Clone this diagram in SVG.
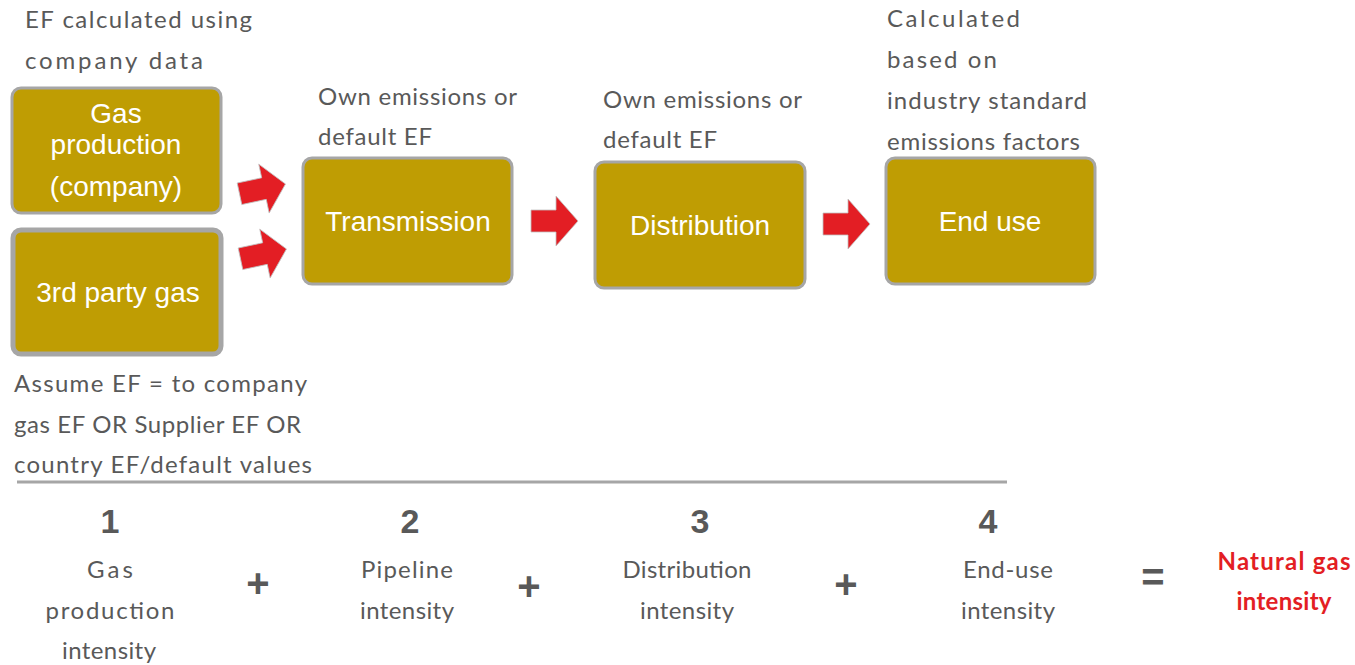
<svg xmlns="http://www.w3.org/2000/svg" width="1355" height="665" viewBox="0 0 1355 665">
<style>
.box{fill:#BF9D03;stroke:#A6A6A6;stroke-width:3}
.bt{font-family:"Liberation Sans",Arial,sans-serif;font-size:28px;fill:#FFFFFF;text-anchor:middle}
.note{font-family:"Lato","Open Sans",sans-serif;font-size:24px;fill:#595959}
.num{font-family:"Liberation Sans",Arial,sans-serif;font-size:34px;font-weight:bold;fill:#595959;text-anchor:middle}
.lab{font-family:"Lato","Open Sans",sans-serif;font-size:24px;fill:#595959;text-anchor:middle}
.op{font-family:"Liberation Sans",Arial,sans-serif;font-size:40px;font-weight:bold;fill:#595959;text-anchor:middle}
.res{font-family:"Lato","Open Sans",sans-serif;font-size:24px;font-weight:bold;fill:#E31E24;text-anchor:middle}
.arr{fill:#E31E24;stroke:#C0C0C0;stroke-width:0.8}
</style>
<defs>
<path id="blk" d="M-23,-11 L2,-11 L2,-25 L24,0 L2,25 L2,11 L-23,11 Z"/>
</defs>
<g id="connectors">
<use href="#blk" class="arr" transform="translate(262,189) rotate(-12)"/>
<use href="#blk" class="arr" transform="translate(263,254) rotate(-12)"/>
<use href="#blk" class="arr" transform="translate(554,221)"/>
<use href="#blk" class="arr" transform="translate(846,224)"/>
</g>
<g id="gas-production">
<rect class="box" x="12" y="88" width="209" height="125" rx="9"/>
<text class="bt" x="116" y="123">Gas</text>
<text class="bt" x="116" y="154">production</text>
<text class="bt" x="116" y="196">(company)</text>
</g>
<g id="third-party">
<rect class="box" x="13" y="230" width="208" height="124" rx="8" style="stroke-width:5"/>
<text class="bt" x="118" y="302">3rd party gas</text>
</g>
<g id="transmission">
<rect class="box" x="303" y="158" width="209" height="126" rx="9"/>
<text class="bt" x="408" y="231">Transmission</text>
</g>
<g id="distribution">
<rect class="box" x="595" y="162" width="210" height="126" rx="9"/>
<text class="bt" x="700" y="235">Distribution</text>
</g>
<g id="end-use">
<rect class="box" x="886" y="158" width="209" height="126" rx="9"/>
<text class="bt" x="990" y="231">End use</text>
</g>
<g id="notes">
<text class="note" x="25" y="28" textLength="227">EF calculated using</text>
<text class="note" x="25" y="69" textLength="178">company data</text>
<text class="note" x="318" y="105" textLength="199">Own emissions or</text>
<text class="note" x="318" y="145" textLength="114">default EF</text>
<text class="note" x="603" y="108" textLength="199">Own emissions or</text>
<text class="note" x="603" y="148" textLength="114">default EF</text>
<text class="note" x="887" y="27" textLength="133">Calculated</text>
<text class="note" x="887" y="68" textLength="110">based on</text>
<text class="note" x="887" y="109" textLength="200">industry standard</text>
<text class="note" x="887" y="150" textLength="193">emissions factors</text>
<text class="note" x="14" y="392" textLength="293">Assume EF = to company</text>
<text class="note" x="14" y="433" textLength="287">gas EF OR Supplier EF OR</text>
<text class="note" x="14" y="473" textLength="298">country EF/default values</text>
</g>
<line x1="17" y1="482" x2="1007" y2="482" stroke="#A6A6A6" stroke-width="3"/>
<g id="formula">
<text class="num" x="110" y="533">1</text>
<text class="num" x="410" y="533">2</text>
<text class="num" x="700" y="533">3</text>
<text class="num" x="988" y="533">4</text>
<text class="lab" x="110" y="578" textLength="46">Gas</text>
<text class="lab" x="110" y="619" textLength="129">production</text>
<text class="lab" x="109" y="659" textLength="94">intensity</text>
<text class="lab" x="407" y="578" textLength="92">Pipeline</text>
<text class="lab" x="407" y="619" textLength="94">intensity</text>
<text class="lab" x="687" y="578" textLength="129">Distribution</text>
<text class="lab" x="687" y="619" textLength="94">intensity</text>
<text class="lab" x="1008" y="578" textLength="90">End-use</text>
<text class="lab" x="1008" y="619" textLength="94">intensity</text>
<text class="op" x="258" y="597">+</text>
<text class="op" x="529" y="600">+</text>
<text class="op" x="846" y="598">+</text>
<text class="op" x="1153" y="591">=</text>
<text class="res" x="1284" y="570" textLength="133">Natural gas</text>
<text class="res" x="1284" y="610" textLength="95">intensity</text>
</g>
</svg>
